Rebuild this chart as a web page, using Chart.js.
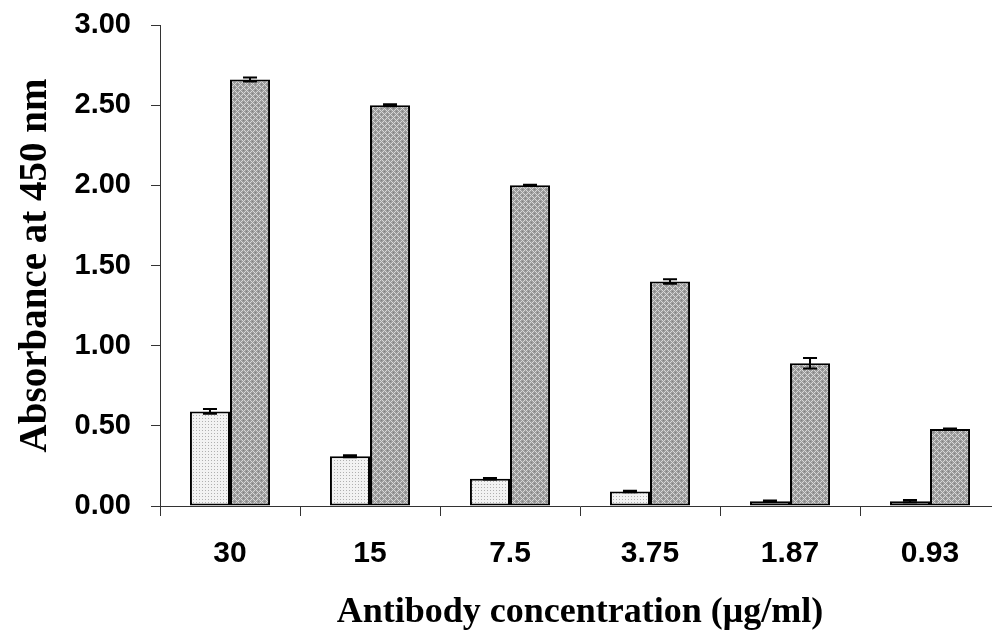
<!DOCTYPE html>
<html lang="en">
<head>
  <meta charset="UTF-8">
  <title>Absorbance vs antibody concentration</title>
  <script src="https://cdn.jsdelivr.net/npm/chart.js"></script>
  <style>
    html, body { margin: 0; padding: 0; background: #fff; overflow: hidden; }
    #wrap { position: relative; width: 1000px; height: 641px; }
  </style>
</head>
<body>
  <div id="wrap"><canvas id="absChart"></canvas></div>

  <script>
    // data
    const concentrations = ["30", "15", "7.5", "3.75", "1.87", "0.93"];
    const controlValues = [0.59, 0.31, 0.17, 0.09, 0.03, 0.03];
    const controlErrors = [0.015, 0.006, 0.004, 0.005, 0.005, 0.007];
    const antibodyValues = [2.66, 2.50, 2.00, 1.40, 0.89, 0.48];
    const antibodyErrors = [0.012, 0.006, 0.003, 0.014, 0.033, 0.003];
    const yTicks = [0, 0.5, 1, 1.5, 2, 2.5, 3];

    function makePattern(size, draw) {
      const c = document.createElement("canvas");
      c.width = size; c.height = size;
      const g = c.getContext("2d");
      draw(g);
      return document.getElementById("absChart").getContext("2d").createPattern(c, "repeat");
    }

    // light dotted fill
    const dotFill = makePattern(3, g => {
      g.fillStyle = "#f2f2f2";
      g.fillRect(0, 0, 3, 3);
      g.fillStyle = "#b0b0b0";
      g.fillRect(1, 1, 1, 1);
    });

    // grey cross-hatched fill
    const hatchFill = makePattern(6, g => {
      g.fillStyle = "#9c9c9c";
      g.fillRect(0, 0, 6, 6);
      g.fillStyle = "#d8d8d8";
      for (let x = 0; x < 6; x++) {
        for (let y = 0; y < 6; y++) {
          if ((x + y) % 6 === 0 || (x - y + 6) % 6 === 0) g.fillRect(x, y, 1, 1);
        }
      }
      g.fillStyle = "#808080";
      g.fillRect(3, 0, 1, 1);
      g.fillRect(0, 3, 1, 1);
    });

    const errorBars = {
      id: "errorBars",
      afterDatasetsDraw(chart) {
        const ctx = chart.ctx;
        const y = chart.scales.y;
        const errs = [controlErrors, antibodyErrors];
        ctx.save();
        ctx.strokeStyle = "#000";
        ctx.lineWidth = 2;
        chart.data.datasets.forEach((ds, i) => {
          chart.getDatasetMeta(i).data.forEach((bar, j) => {
            const v = ds.data[j], e = errs[i][j];
            const top = y.getPixelForValue(v + e);
            const bot = y.getPixelForValue(v - e);
            ctx.beginPath();
            ctx.moveTo(bar.x, top); ctx.lineTo(bar.x, bot);
            ctx.moveTo(bar.x - 7, top); ctx.lineTo(bar.x + 7, top);
            ctx.moveTo(bar.x - 7, bot); ctx.lineTo(bar.x + 7, bot);
            ctx.stroke();
          });
        });
        ctx.restore();
      }
    };

    new Chart(document.getElementById("absChart"), {
      type: "bar",
      data: {
        labels: concentrations,
        datasets: [{
          label: "Control",
          data: controlValues,
          backgroundColor: dotFill,
          borderColor: "#000",
          borderWidth: 2,
          borderSkipped: false
        }, {
          label: "Antibody",
          data: antibodyValues,
          backgroundColor: hatchFill,
          borderColor: "#000",
          borderWidth: 2,
          borderSkipped: false
        }]
      },
      options: {
        responsive: true,
        maintainAspectRatio: false,
        animation: false,
        layout: { padding: { top: 25, right: 0, left: 0, bottom: 0 } },
        plugins: { legend: { display: false }, tooltip: { enabled: false } },
        datasets: { bar: { categoryPercentage: 0.572, barPercentage: 1 } },
        scales: {
          x: {
            afterFit: s => { s.height = 135; s.paddingLeft = 0; s.paddingRight = 0; },
            grid: { drawOnChartArea: false, offset: true, tickLength: 10, color: "#333" },
            border: { color: "#333", width: 1 },
            ticks: { color: "#000", padding: 20, font: { family: "Liberation Sans", weight: "bold", size: 30 } },
            title: {
              display: true,
              text: "Antibody concentration (\u03bcg/ml)",
              color: "#000",
              padding: { bottom: 7 },
              font: { family: "Liberation Serif", weight: "bold", size: 36 }
            }
          },
          y: {
            min: 0,
            max: 3,
            afterFit: s => { s.width = 160; s.paddingTop = 0; s.paddingBottom = 0; },
            afterBuildTicks: s => { s.ticks = yTicks.map(v => ({ value: v })); },
            grid: { drawOnChartArea: false, tickLength: 9, color: "#333" },
            border: { color: "#333", width: 1 },
            ticks: {
              color: "#000",
              padding: 20,
              callback: v => Number(v).toFixed(2),
              font: { family: "Liberation Sans", weight: "bold", size: 29 }
            },
            title: {
              display: true,
              text: "Absorbance at 450 nm",
              color: "#000",
              padding: { top: 13 },
              font: { family: "Liberation Serif", weight: "bold", size: 39 }
            }
          }
        }
      },
      plugins: [errorBars]
    });
  </script>
</body>
</html>
